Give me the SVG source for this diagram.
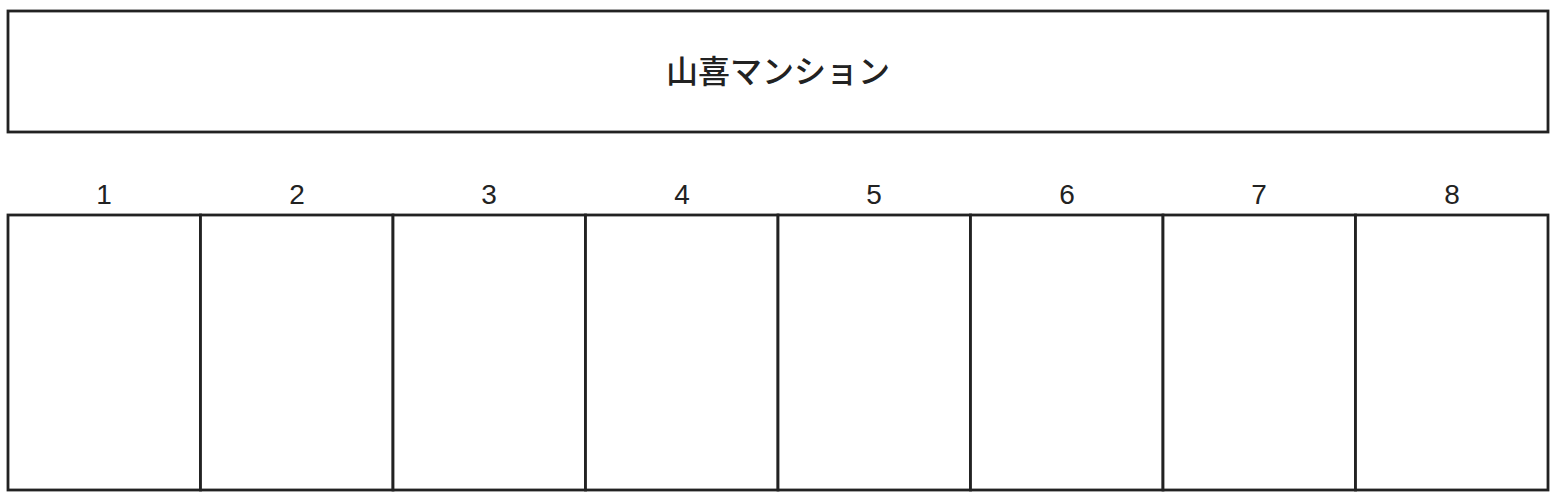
<svg xmlns="http://www.w3.org/2000/svg" width="1557" height="500" viewBox="0 0 1557 500">
<style>
.box{fill:#fff;stroke:#222;stroke-width:2.8}
.num{font-family:"Liberation Sans","Noto Sans",sans-serif;font-size:28px;fill:#222;text-anchor:middle}
.title{font-family:"Noto Sans CJK JP","Noto Sans CJK SC",sans-serif;font-size:32px;font-weight:500;fill:#222;text-anchor:middle;dominant-baseline:central}
</style>
<rect width="1557" height="500" fill="#fff"/>
<g id="building">
<rect class="box" x="8" y="11" width="1540" height="121"/>
<text class="title" x="778" y="69">山喜マンション</text>
</g>
<g id="room1"><rect class="box" x="8" y="215" width="192.5" height="275"/><text class="num" x="104" y="204">1</text></g>
<g id="room2"><rect class="box" x="200.5" y="215" width="192.5" height="275"/><text class="num" x="297" y="204">2</text></g>
<g id="room3"><rect class="box" x="393" y="215" width="192.5" height="275"/><text class="num" x="489" y="204">3</text></g>
<g id="room4"><rect class="box" x="585.5" y="215" width="192.5" height="275"/><text class="num" x="682" y="204">4</text></g>
<g id="room5"><rect class="box" x="778" y="215" width="192.5" height="275"/><text class="num" x="874" y="204">5</text></g>
<g id="room6"><rect class="box" x="970.5" y="215" width="192.5" height="275"/><text class="num" x="1067" y="204">6</text></g>
<g id="room7"><rect class="box" x="1163" y="215" width="192.5" height="275"/><text class="num" x="1259" y="204">7</text></g>
<g id="room8"><rect class="box" x="1355.5" y="215" width="192.5" height="275"/><text class="num" x="1452" y="204">8</text></g>
<g id="connectors"></g>
</svg>
